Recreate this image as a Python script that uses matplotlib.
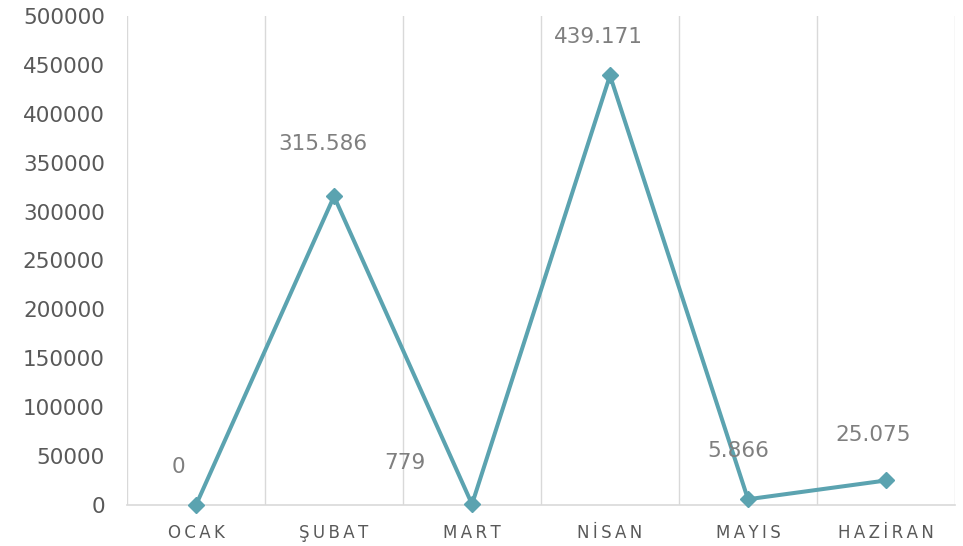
import matplotlib
matplotlib.use('Agg')
import matplotlib.pyplot as plt
import numpy as np

######################################################################
## DATA
months = ['OCAK', 'ŞUBAT', 'MART', 'NİSAN', 'MAYIS', 'HAZİRAN']
values = [0, 315586, 779, 439171, 5866, 25075]
valueLabels = ['0', '315.586', '779', '439.171', '5.866', '25.075']
yTicks = [0, 50000, 100000, 150000, 200000, 250000, 300000, 350000, 400000, 450000, 500000]

## label offsets in points (dx, dy) from the marker
labelOffsets = [(-13, 27), (-8, 38), (-48, 30), (-8, 28), (-7, 35), (-9, 33)]

lineColor = '#5BA3B0'
textGray = '#595959'
labelGray = '#7F7F7F'
gridGray = '#D9D9D9'

plt.rcParams['font.family'] = ['DejaVu Sans']

######################################################################
## PLOT
fig = plt.figure(figsize=(9.63, 5.46), dpi=100)
ax = fig.add_axes([0.1319, 0.0751, 0.9917 - 0.1319, 0.9707 - 0.0751])

x = np.arange(len(months))
ax.plot(x, values, color=lineColor, linewidth=2.9, marker='D', markersize=8.5,
        zorder=3, clip_on=False)

for i in range(len(values)):
    ax.annotate(valueLabels[i], (x[i], values[i]), xytext=labelOffsets[i],
                textcoords='offset points', ha='center', va='center',
                fontsize=15.5, color=labelGray)

## vertical lines at category boundaries
for b in np.arange(-0.5, len(months), 1.0):
    ax.axvline(b, color=gridGray, linewidth=1.0, zorder=1)

ax.set_xlim(-0.5, len(months) - 0.5)
ax.set_ylim(0, 500000)
ax.set_yticks(yTicks)
ax.set_yticklabels([str(t) for t in yTicks])
ax.set_xticks(x)
ax.set_xticklabels(['\u2009'.join(m) for m in months])

for s in ['top', 'right', 'left']:
    ax.spines[s].set_visible(False)
ax.spines['bottom'].set_color(gridGray)
ax.spines['bottom'].set_linewidth(1.2)

ax.tick_params(axis='y', length=0, pad=16, labelsize=15.5, labelcolor=textGray)
ax.tick_params(axis='x', length=0, pad=13.5, labelsize=12, labelcolor=textGray)

plt.savefig('out.png', dpi=100)
